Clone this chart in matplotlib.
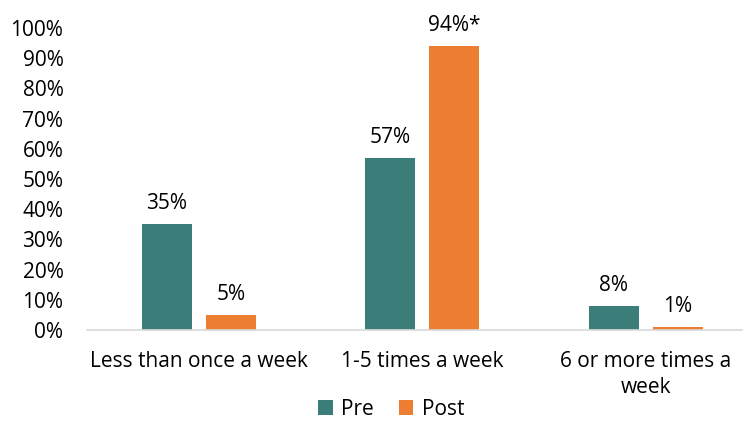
import matplotlib.pyplot as plt
import numpy as np
from matplotlib.ticker import PercentFormatter

categories = ["Less than once a week", "1-5 times a week", "6 or more times a\nweek"]
pre = [35, 57, 8]
post = [5, 94, 1]
post_labels = ["5%", "94%*", "1%"]
pre_labels = ["35%", "57%", "8%"]

TEAL = "#3B7D78"
ORANGE = "#ED7D31"
FS = 15

plt.rcParams.update({"font.family": ["Open Sans", "DejaVu Sans"], "font.size": FS, "text.color": "#000000"})

fig = plt.figure(figsize=(7.45, 4.21), dpi=100)
ax = fig.add_axes([87 / 745, 1 - 330 / 421, (742 - 87) / 745, (330 - 28) / 421])

x = np.arange(len(categories))
w = 0.223
off = 0.143
b1 = ax.bar(x - off, pre, w, color=TEAL, label="Pre")
b2 = ax.bar(x + off, post, w, color=ORANGE, label="Post")

for bars, labels in ((b1, pre_labels), (b2, post_labels)):
    for bar, lab in zip(bars, labels):
        ax.text(bar.get_x() + bar.get_width() / 2, bar.get_height() + 5, lab,
                ha="center", va="baseline", fontsize=FS)

ax.set_ylim(0, 100)
ax.set_xlim(-0.5, 2.43)
ax.set_yticks(range(0, 101, 10))
ax.yaxis.set_major_formatter(PercentFormatter(decimals=0))
ax.set_xticks(x)
ax.set_xticklabels(categories, linespacing=1.35)
ax.tick_params(axis="both", length=0, labelsize=FS)
ax.tick_params(axis="y", pad=17)
ax.tick_params(axis="x", pad=15)
for s in ("top", "right", "left"):
    ax.spines[s].set_visible(False)
ax.spines["bottom"].set_color("#D9D9D9")
ax.spines["bottom"].set_linewidth(1.2)

fig.legend(loc="lower center", bbox_to_anchor=(0.525, -0.022), ncol=2, frameon=False,
           handlelength=0.7, handleheight=0.7, handletextpad=0.4, columnspacing=1.2,
           fontsize=FS, borderpad=0.0)

fig.savefig("out.png", dpi=100)
